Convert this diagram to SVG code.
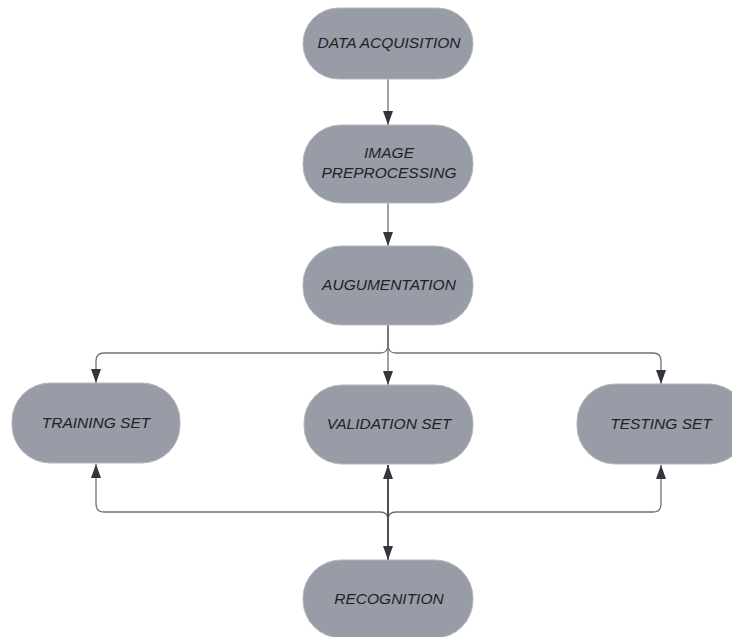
<svg xmlns="http://www.w3.org/2000/svg" width="732" height="637" viewBox="0 0 732 637">
<style>
.node{fill:#989ca6;stroke:#b4b7be;stroke-width:1}
.lbl{font-family:"Liberation Sans",Arial,sans-serif;font-style:italic;font-size:15.5px;fill:#202227;text-anchor:middle}
.edge{fill:none;stroke:#6e7177;stroke-width:1.3}
.thick{fill:none;stroke:#4a4d53;stroke-width:2}
</style>
<defs>
<marker id="a" viewBox="0 0 14 10" refX="14" refY="5" markerWidth="14" markerHeight="10" markerUnits="userSpaceOnUse" orient="auto-start-reverse">
<path d="M0,0 L14,5 L0,10 Z" fill="#33363c"/>
</marker>
</defs>
<rect width="732" height="637" fill="#ffffff"/>
<g id="connectors">
<path class="edge" d="M388,79 V125" marker-end="url(#a)"/>
<path class="edge" d="M388,203 V246" marker-end="url(#a)"/>
<path class="edge" d="M388,325 V385" marker-end="url(#a)"/>
<path class="edge" d="M388,325 V345 Q388,353 380,353 H104 Q96,353 96,361 V383" marker-end="url(#a)"/>
<path class="edge" d="M388,325 V345 Q388,353 396,353 H653 Q661,353 661,361 V384" marker-end="url(#a)"/>
<path class="edge" d="M388,560 V520 Q388,512 380,512 H104 Q96,512 96,504 V464" marker-end="url(#a)"/>
<path class="edge" d="M388,560 V520 Q388,512 396,512 H653 Q661,512 661,504 V465" marker-end="url(#a)"/>
<path class="thick" d="M388,465 V560" marker-start="url(#a)" marker-end="url(#a)"/>
</g>
<g id="data-acquisition">
<rect class="node" x="303" y="8" width="170" height="71" rx="35.5"/>
<text class="lbl" x="389" y="48">DATA ACQUISITION</text>
</g>
<g id="image-preprocessing">
<rect class="node" x="303" y="125" width="170" height="78" rx="38"/>
<text class="lbl" x="389" y="158">IMAGE</text>
<text class="lbl" x="389" y="178">PREPROCESSING</text>
</g>
<g id="augmentation">
<rect class="node" x="303" y="246" width="170" height="79" rx="38"/>
<text class="lbl" x="389" y="290">AUGUMENTATION</text>
</g>
<g id="training-set">
<rect class="node" x="12" y="383" width="168" height="80" rx="38"/>
<text class="lbl" x="96" y="428">TRAINING SET</text>
</g>
<g id="validation-set">
<rect class="node" x="304" y="385" width="169" height="79" rx="38"/>
<text class="lbl" x="389" y="429">VALIDATION SET</text>
</g>
<g id="testing-set">
<rect class="node" x="577" y="384" width="170" height="80" rx="38"/>
<text class="lbl" x="661" y="429">TESTING SET</text>
</g>
<g id="recognition">
<rect class="node" x="303" y="560" width="170" height="78" rx="38"/>
<text class="lbl" x="389" y="604">RECOGNITION</text>
</g>
</svg>
